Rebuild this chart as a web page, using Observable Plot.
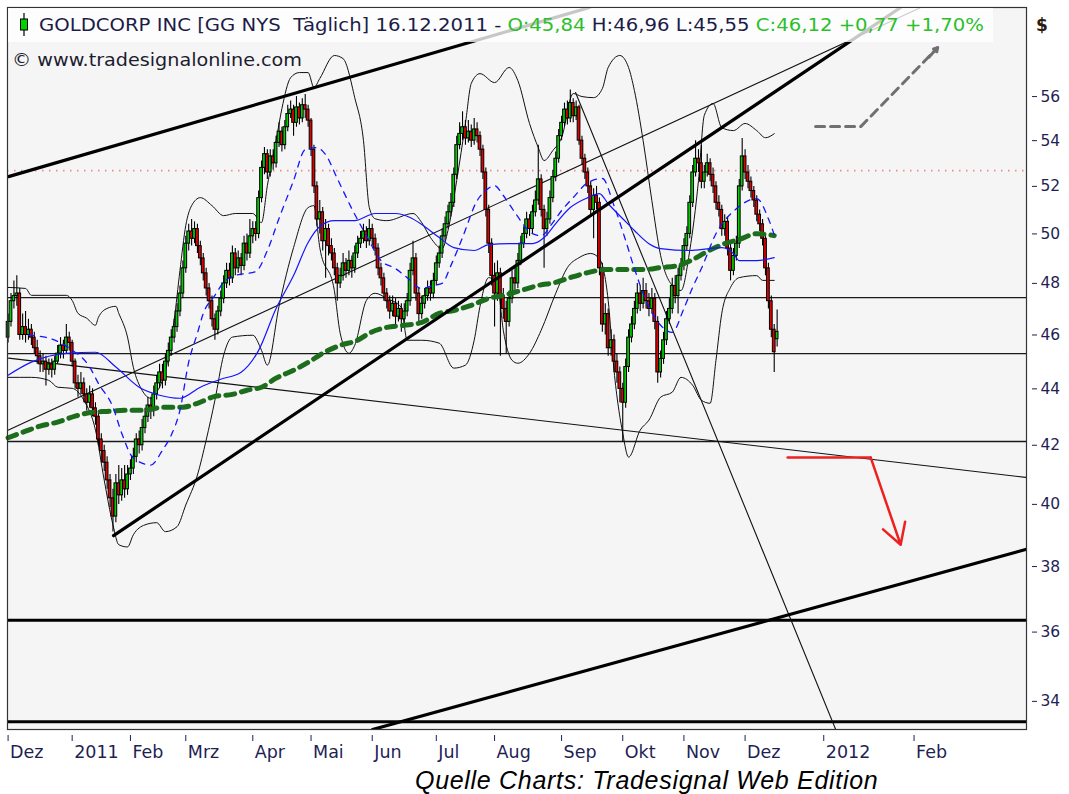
<!DOCTYPE html>
<html><head><meta charset="utf-8">
<script src="https://cdn.jsdelivr.net/npm/d3@7"></script>
<script src="https://cdn.jsdelivr.net/npm/@observablehq/plot@0.6"></script>
<style>
body{margin:0;background:#fff;width:1069px;height:794px;position:relative;overflow:hidden}
#chart{position:absolute;left:0;top:0}
#caption{position:absolute;left:415px;top:766px;font:italic 25px "Liberation Sans",Arial,sans-serif;letter-spacing:0.7px;line-height:28px;color:#000;white-space:nowrap}
</style></head><body>
<div id="chart"></div>
<div id="caption">Quelle Charts: Tradesignal Web Edition</div>
<script>
// ---- daily candles, 01.12.2010 .. 16.12.2011 (bar index = trading day) ----
const opens = [
45.9,46.5,47.3,47.5,47.6,46.0,46.3,46.0,46.2,45.9,45.5,45.2,44.9,45.0,44.7,44.9,44.7,45.0,45.3,45.6,45.4,45.9,
45.7,45.0,44.2,44.0,44.2,43.8,43.5,43.8,43.3,43.0,42.2,41.8,41.4,40.8,40.2,39.6,40.7,40.3,40.8,40.5,
41.0,41.2,41.6,42.2,42.0,42.6,43.0,43.4,43.2,43.8,44.2,44.6,44.3,45.0,45.4,45.9,46.3,46.9,47.6,
48.6,49.6,50.1,49.8,50.2,49.5,49.0,48.4,47.8,47.3,46.6,46.2,46.9,47.4,48.0,48.5,48.2,49.2,48.6,49.0,48.7,49.6,49.2,
49.9,50.2,50.0,51.5,52.8,53.4,52.6,53.3,53.0,53.9,54.4,53.8,54.6,55.2,55.4,54.8,55.5,55.0,55.6,55.4,
54.9,53.6,52.0,50.6,50.9,49.7,50.2,49.5,49.2,48.6,48.0,48.3,48.8,48.5,48.9,48.6,49.2,49.6,49.8,50.1,49.7,
50.2,49.8,49.4,48.6,48.2,47.6,47.3,46.9,47.2,46.7,47.0,46.6,46.9,47.3,48.5,49.0,47.6,46.8,47.2,47.5,47.8,47.6,
48.1,48.8,49.2,49.9,50.4,50.9,51.3,52.5,53.8,54.3,54.6,54.1,54.4,54.0,54.5,54.2,53.6,52.6,51.0,49.6,
48.3,47.6,48.4,47.5,47.0,46.5,47.4,48.2,48.0,48.9,49.6,50.0,50.6,50.2,50.9,51.4,52.3,51.0,50.2,50.6,51.5,52.4,53.2,
54.2,54.8,55.4,55.0,55.7,55.1,55.5,54.0,53.2,52.6,52.0,51.0,51.6,51.3,48.6,46.4,46.8,45.5,45.8,45.0,44.6,
44.0,43.5,44.8,45.9,46.4,47.0,47.6,47.2,47.7,47.3,47.0,47.4,46.5,44.6,45.1,45.8,46.6,47.0,47.9,47.5,48.3,
48.7,49.5,50.0,51.3,52.6,53.2,53.0,52.2,52.6,53.0,52.5,52.0,51.3,51.0,50.2,50.5,49.4,48.5,49.1,49.6,52.0,
53.3,52.6,52.2,51.8,51.4,50.8,50.4,49.8,48.6,47.3,46.2,45.84];
const highs = [
46.8,47.6,48.1,48.3,47.8,46.8,46.9,46.6,46.4,46.1,45.8,45.4,45.3,45.2,45.1,45.1,45.2,45.6,45.9,45.8,46.4,46.1,
45.8,45.1,44.5,44.6,44.4,44.0,44.1,44.0,43.5,43.2,42.4,42.0,41.6,41.0,40.5,41.0,41.3,41.2,41.3,41.3,
41.5,41.9,42.4,42.5,42.9,43.3,43.7,43.7,44.1,44.5,44.9,44.9,45.3,45.7,46.2,46.6,47.2,47.9,48.9,
49.9,50.4,50.6,50.5,50.4,49.7,49.2,48.6,48.0,47.5,46.8,47.1,47.7,48.3,48.8,48.8,49.5,49.4,49.3,49.2,49.9,50.0,50.6,
50.5,50.5,51.8,53.1,53.7,53.6,53.6,53.6,54.2,54.8,54.6,54.9,55.6,55.8,55.6,56.0,55.7,55.9,56.1,55.6,
55.0,53.8,52.2,51.4,51.1,50.6,50.4,49.8,49.4,48.8,48.6,49.2,49.0,49.3,49.1,49.5,49.9,50.1,50.4,50.3,50.6,
50.4,50.0,49.6,48.8,48.4,47.8,47.5,47.5,47.4,47.3,47.2,47.2,47.6,48.8,49.7,49.2,47.8,47.5,47.8,48.1,48.1,48.4,
49.1,49.5,50.2,50.7,51.2,51.7,52.8,54.2,54.8,55.3,54.9,54.9,54.7,55.0,54.8,54.4,53.8,52.8,51.2,49.8,
48.8,48.9,48.6,47.8,47.3,47.7,48.5,48.6,49.2,49.9,50.3,50.9,50.8,51.2,51.8,53.8,52.5,51.2,50.9,51.8,52.7,53.5,54.5,
55.1,55.7,55.8,56.3,55.9,55.8,55.6,54.2,53.4,52.8,52.2,51.9,52.0,51.5,48.8,47.2,47.0,46.2,46.0,45.3,44.8,
44.2,45.1,46.2,46.7,47.3,48.0,47.9,48.2,48.0,47.6,47.8,47.6,46.7,45.4,46.1,46.9,47.4,48.2,48.3,48.6,49.0,
49.8,50.3,51.6,52.9,54.0,53.6,53.8,52.9,53.4,53.2,52.8,52.2,51.6,51.2,50.8,50.7,49.6,49.4,49.9,52.3,54.1,
53.6,52.9,52.4,52.0,51.6,51.0,50.6,50.0,48.8,47.5,46.4,46.96];
const lows = [
45.7,46.3,47.0,47.1,45.8,45.8,45.7,45.8,45.6,45.3,44.9,44.6,44.6,44.1,44.5,44.4,44.5,44.9,45.1,45.1,45.3,45.4,
44.8,44.0,43.7,43.8,43.5,43.2,43.3,43.0,42.7,42.0,41.4,41.1,40.5,39.9,39.1,39.4,40.0,40.1,40.2,40.3,
40.8,41.0,41.4,41.7,41.8,42.4,42.8,42.9,43.0,43.6,44.0,44.0,44.1,44.8,45.2,45.7,46.1,46.7,47.4,
48.4,49.3,49.5,49.6,49.2,48.7,48.1,47.5,47.0,46.3,45.8,46.0,46.7,47.2,47.8,47.9,48.0,48.3,48.4,48.3,48.5,48.9,49.0,
49.6,49.7,49.8,51.3,52.5,52.3,52.4,52.7,52.8,53.7,53.5,53.6,54.4,55.0,54.2,54.6,54.7,54.8,55.0,54.6,
53.3,51.7,50.3,50.0,49.3,48.2,49.1,48.9,48.3,47.3,47.8,48.1,48.2,48.3,48.2,48.4,49.0,49.4,49.6,49.4,49.5,
49.5,49.1,48.3,47.9,47.3,47.0,46.6,46.7,46.4,46.5,46.1,46.4,46.7,47.1,48.3,47.3,46.4,46.6,47.0,47.3,47.3,47.4,
47.9,48.6,49.0,49.7,50.2,50.7,51.1,52.3,53.6,54.0,53.8,53.9,53.7,53.8,53.9,53.3,52.3,50.7,49.2,47.9,
46.3,47.3,45.2,46.6,45.3,46.3,47.2,47.7,47.8,48.7,49.4,49.8,49.9,50.0,50.7,51.2,50.7,48.6,49.9,50.4,51.3,52.2,53.0,
54.0,54.6,54.7,54.8,54.8,54.9,53.8,52.9,52.3,51.7,50.7,49.8,51.0,48.3,46.1,46.0,45.2,45.2,44.6,44.2,43.5,
42.1,43.3,44.6,45.7,46.2,46.8,46.9,47.0,47.0,46.7,46.8,46.2,44.2,44.4,44.9,45.6,46.4,46.8,47.2,46.8,48.1,
48.5,49.3,49.8,51.1,52.4,52.6,51.9,51.9,52.4,52.2,51.7,51.0,50.7,49.9,49.9,49.1,48.1,48.3,48.9,49.4,51.8,
52.3,51.9,51.5,51.1,50.5,50.1,49.5,48.3,47.0,45.9,44.6,45.55];
const closes = [
46.5,47.3,47.5,47.6,46.0,46.3,46.0,46.2,45.9,45.5,45.2,44.9,45.0,44.7,44.9,44.7,45.0,45.3,45.6,45.4,45.9,45.7,
45.0,44.2,44.0,44.2,43.8,43.5,43.8,43.3,43.0,42.2,41.8,41.4,40.8,40.2,39.6,40.7,40.3,40.8,40.5,41.0,
41.2,41.6,42.2,42.0,42.6,43.0,43.4,43.2,43.8,44.2,44.6,44.3,45.0,45.4,45.9,46.3,46.9,47.6,48.6,
49.6,50.1,49.8,50.2,49.5,49.0,48.4,47.8,47.3,46.6,46.2,46.9,47.4,48.0,48.5,48.2,49.2,48.6,49.0,48.7,49.6,49.2,49.9,
50.2,50.0,51.5,52.8,53.4,52.6,53.3,53.0,53.9,54.4,53.8,54.6,55.2,55.4,54.8,55.5,55.0,55.6,55.4,54.9,
53.6,52.0,50.6,50.9,49.7,50.2,49.5,49.2,48.6,48.0,48.3,48.8,48.5,48.9,48.6,49.2,49.6,49.8,50.1,49.7,50.2,
49.8,49.4,48.6,48.2,47.6,47.3,46.9,47.2,46.7,47.0,46.6,46.9,47.3,48.5,49.0,47.6,46.8,47.2,47.5,47.8,47.6,48.1,
48.8,49.2,49.9,50.4,50.9,51.3,52.5,53.8,54.3,54.6,54.1,54.4,54.0,54.5,54.2,53.6,52.6,51.0,49.6,48.3,
47.6,48.4,47.5,47.0,46.5,47.4,48.2,48.0,48.9,49.6,50.0,50.6,50.2,50.9,51.4,52.3,51.0,50.2,50.6,51.5,52.4,53.2,54.2,
54.8,55.4,55.0,55.7,55.1,55.5,54.0,53.2,52.6,52.0,51.0,51.6,51.3,48.6,46.4,46.8,45.5,45.8,45.0,44.6,44.0,
43.5,44.8,45.9,46.4,47.0,47.6,47.2,47.7,47.3,47.0,47.4,46.5,44.6,45.1,45.8,46.6,47.0,47.9,47.5,48.3,48.7,
49.5,50.0,51.3,52.6,53.2,53.0,52.2,52.6,53.0,52.5,52.0,51.3,51.0,50.2,50.5,49.4,48.5,49.1,49.6,52.0,53.3,
52.6,52.2,51.8,51.4,50.8,50.4,49.8,48.6,47.3,46.2,45.35,46.12];

// ---- axes ----
const monthTickIdx = [0,22,42,61,84,104,125,147,167,190,211,232,253,280,311];
const monthLabels = ["Dez","2011","Feb","Mrz","Apr","Mai","Jun","Jul","Aug","Sep","Okt","Nov","Dez","2012","Feb"];
const priceTicks = [34,36,38,40,42,44,46,48,50,52,54,56];

// ---- indicators [bar index, price] ----
const bbUpper = [[0,47.84],[6,47.80],[8,47.53],[20,47.53],[22,47.33],[24,46.83],[27,46.64],[30,46.37],[31,46.67],[34,47.02],[37,47.10],[38,46.83],[41,45.92],[43,44.79],[46,43.95],[49,43.66],[51,43.88],[54,44.68],[57,46.56],[59,48.51],[61,50.35],[63,51.18],[66,51.52],[70,51.18],[74,50.76],[78,50.85],[84,50.85],[87,50.47],[89,52.03],[92,54.00],[94,55.45],[97,56.88],[100,57.12],[103,57.12],[105,56.42],[107,56.84],[112,57.93],[115,57.78],[119,55.95],[122,54.00],[124,51.10],[126,50.63],[130,50.55],[139,50.85],[142,50.47],[145,49.85],[149,49.40],[151,50.14],[154,52.25],[157,54.77],[159,56.61],[162,57.07],[167,56.65],[172,57.36],[175,56.74],[179,54.77],[182,53.69],[184,53.12],[187,53.56],[190,54.13],[194,56.14],[197,56.00],[201,55.95],[204,56.37],[206,57.36],[210,57.93],[213,57.36],[215,56.28],[218,54.00],[221,51.39],[224,49.12],[228,47.92],[231,47.72],[234,49.32],[237,52.25],[239,55.14],[242,55.68],[245,54.58],[249,54.45],[253,54.77],[257,54.45],[260,54.13],[263,54.31]];
const bbLower = [[0,44.42],[8,44.42],[14,44.31],[17,44.06],[22,44.02],[26,43.59],[30,42.53],[33,40.81],[36,39.33],[38,38.69],[41,38.62],[43,39.01],[47,39.33],[51,39.40],[54,39.11],[58,39.27],[61,39.98],[65,40.98],[68,42.18],[71,43.59],[74,45.24],[77,45.92],[84,45.99],[87,45.42],[89,44.87],[93,47.10],[98,49.44],[103,51.10],[105,51.18],[107,49.44],[112,47.72],[114,46.07],[117,45.31],[119,45.61],[123,47.33],[126,47.61],[130,47.41],[135,47.06],[137,45.80],[142,45.80],[148,45.69],[153,44.76],[157,44.87],[160,45.80],[162,47.10],[165,48.23],[168,47.92],[170,46.18],[173,45.05],[175,44.94],[179,45.31],[183,46.18],[188,47.61],[192,48.63],[196,49.03],[200,49.20],[203,48.99],[206,47.33],[208,44.68],[211,42.42],[213,41.59],[217,42.53],[220,42.88],[224,43.70],[228,43.88],[231,44.42],[235,44.13],[238,43.59],[241,43.48],[243,45.05],[245,46.83],[248,47.84],[251,48.23],[257,48.31],[259,48.12],[263,48.12]];
const maSlow = [[0,44.50],[8,44.98],[20,45.31],[30,45.35],[37,44.80],[45,44.06],[52,43.77],[59,43.66],[66,44.06],[73,44.35],[80,44.61],[86,45.42],[92,47.02],[98,48.31],[103,49.65],[107,50.31],[112,50.55],[119,50.55],[126,50.85],[133,50.85],[138,50.68],[142,50.39],[148,49.85],[153,49.44],[160,49.32],[165,49.56],[172,49.60],[180,49.60],[184,49.85],[188,50.43],[193,51.10],[199,51.52],[203,51.69],[206,51.26],[211,50.63],[215,50.14],[220,49.60],[224,49.40],[234,49.32],[241,49.40],[245,49.44],[249,49.20],[251,48.91],[257,48.91],[263,49.03]];
const maFast = [[7,45.99],[14,45.88],[21,45.50],[28,44.80],[31,44.20],[36,43.34],[39,42.42],[43,41.56],[49,41.32],[53,41.83],[56,42.35],[59,43.23],[62,44.98],[65,46.07],[67,46.82],[71,47.53],[74,48.04],[78,48.31],[85,48.47],[89,49.32],[93,50.64],[98,52.25],[102,53.60],[106,53.69],[109,53.38],[113,52.34],[118,51.05],[123,49.93],[128,48.91],[133,48.59],[137,48.23],[142,47.80],[146,47.92],[149,48.00],[152,48.71],[156,49.85],[161,51.39],[164,51.82],[167,52.03],[170,51.61],[174,50.89],[180,50.01],[183,49.93],[187,50.47],[190,50.97],[194,51.52],[199,52.16],[204,52.34],[208,51.18],[212,49.73],[215,48.59],[219,47.33],[224,46.37],[228,46.10],[232,47.02],[235,47.84],[238,48.59],[243,50.01],[250,51.05],[257,51.48],[261,50.63],[263,49.97]];
const ma200 = [[0,42.26],[6,42.49],[11,42.67],[17,42.81],[23,43.02],[29,43.16],[34,43.19],[40,43.23],[47,43.23],[53,43.34],[60,43.34],[65,43.48],[71,43.73],[77,43.80],[82,43.95],[87,44.06],[92,44.39],[98,44.68],[103,44.97],[108,45.31],[114,45.61],[120,45.80],[124,46.07],[130,46.29],[136,46.37],[142,46.48],[148,46.83],[153,46.94],[159,47.14],[165,47.41],[170,47.53],[176,47.72],[182,47.92],[188,48.04],[193,48.23],[199,48.43],[205,48.55],[211,48.55],[218,48.55],[224,48.63],[230,48.71],[235,48.95],[240,49.28],[246,49.60],[251,49.77],[257,50.01],[263,49.93]];

// ---- drawing tools [bar index, price] ----
const trendThick = [[[0.14,52.42],[199.6,60.27]], [[36.2,38.98],[306.4,60.27]], [[125.1,33.22],[349.3,38.54]]];
const trendThin  = [[[0.14,42.53],[313.3,60.27]], [[0.14,45.13],[349.3,40.90]], [[194.8,56.19],[284.1,33.22]]];
const levelsThin = [47.44, 45.30, 42.13];
const levelsThick = [36.35, 33.43];
const levelDotted = [52.68];
const redArrow = [[267.6,41.58],[296.1,41.58],[306.4,38.69]];
const greyArrow = [[277.2,54.63],[292.7,54.63],[319.1,58.31]];

// ---- header ----
const headerParts = [["GOLDCORP INC [GG NYS  T\u00e4glich] 16.12.2011 - ","#1c1c48"],["O:45,84","#2cbf2c"],[" H:46,96 L:45,55 ","#1c1c48"],["C:46,12 +0,77 +1,70%","#2cbf2c"]];
const copyright = "\u00a9 www.tradesignalonline.com";

const candles = closes.map((c, i) => ({i, o: opens[i], h: highs[i], l: lows[i], c}));
const toRows = (arr) => arr.map(([i, p]) => ({i, p}));
const segRows = (segs) => segs.flatMap((s, k) => s.map(([i, p]) => ({i, p, k})));
const labelOf = new Map(monthTickIdx.map((d, k) => [d, monthLabels[k]]));

const chart = Plot.plot({
  width: 1069, height: 768,
  marginLeft: 7, marginRight: 43, marginTop: 7, marginBottom: 39,
  style: {fontFamily: "DejaVu Sans, sans-serif", color: "#1f1f55", background: "transparent"},
  x: {type: "linear", domain: [-0.2, 349.6]},
  y: {type: "log", domain: [33.22, 60.27]},
  marks: [
    Plot.frame({fill: "#f5f5f5"}),
    Plot.ruleY(levelDotted, {stroke: "#f08a8a", strokeWidth: 1.6, strokeDasharray: "1.5,5.5"}),
    Plot.ruleY(levelsThin, {stroke: "#1a1a1a", strokeWidth: 1.3}),
    Plot.ruleY(levelsThick, {stroke: "#000", strokeWidth: 3}),
    Plot.line(toRows(bbUpper), {x: "i", y: "p", stroke: "#111", strokeWidth: 1, curve: "monotone-x"}),
    Plot.line(toRows(bbLower), {x: "i", y: "p", stroke: "#111", strokeWidth: 1, curve: "monotone-x"}),
    Plot.line(segRows(trendThin), {x: "i", y: "p", z: "k", stroke: "#111", strokeWidth: 1.1, clip: true}),
    Plot.ruleX(candles, {x: "i", y1: d => Math.min(d.l, d.o, d.c), y2: d => Math.max(d.h, d.o, d.c), stroke: "#000", strokeWidth: 1.1}),
    Plot.rect(candles, {x1: d => d.i - 0.47, x2: d => d.i + 0.47, y1: "o", y2: "c",
      fill: d => d.c >= d.o ? "#00cc00" : "#e00000", stroke: "#000", strokeWidth: 1}),
    Plot.line(toRows(ma200), {x: "i", y: "p", stroke: "#1c6e1c", strokeWidth: 5, strokeDasharray: "9,7", curve: "monotone-x"}),
    Plot.line(toRows(maSlow), {x: "i", y: "p", stroke: "#1515ff", strokeWidth: 1.2, curve: "monotone-x"}),
    Plot.line(toRows(maFast), {x: "i", y: "p", stroke: "#1515ff", strokeWidth: 1.3, strokeDasharray: "6,6", curve: "monotone-x"}),
    Plot.line(segRows(trendThick), {x: "i", y: "p", z: "k", stroke: "#000", strokeWidth: 3.2, clip: true}),
    Plot.line(toRows(redArrow.slice(0, 2)), {x: "i", y: "p", stroke: "#ee2020", strokeWidth: 2.5}),
    Plot.arrow([redArrow], {x1: d => d[1][0], y1: d => d[1][1], x2: d => d[2][0], y2: d => d[2][1], stroke: "#ee2020", strokeWidth: 2.5, headLength: 14}),
    Plot.line(toRows(greyArrow), {x: "i", y: "p", stroke: "#707070", strokeWidth: 3, strokeDasharray: "9,6"}),
    Plot.arrow([greyArrow], {x1: d => d[2][0] - 3, y1: d => d[2][1] * 0.992, x2: d => d[2][0], y2: d => d[2][1], stroke: "#707070", strokeWidth: 3, headLength: 14}),
    Plot.frame({stroke: "#333", strokeWidth: 1.2}),
    Plot.axisY(priceTicks, {anchor: "right", label: null, tickSize: 5, tickPadding: 4, dx: 5, fontSize: 15.5, tickFormat: d => String(d)}),
    Plot.axisX(monthTickIdx, {anchor: "bottom", label: null, tickSize: 6, dy: 6, tickFormat: () => ""}),
    Plot.axisX(monthTickIdx, {anchor: "bottom", label: null, tickSize: 0, tickPadding: 16, dx: 2, textAnchor: "start", fontSize: 17.5, tickFormat: d => labelOf.get(d)})
  ]
});
document.getElementById("chart").append(chart);

// header overlay
const svg = d3.select(chart);
const g = svg.append("g").attr("text-anchor", "start");
g.append("rect").attr("x", 8).attr("y", 8).attr("width", 985).attr("height", 34).attr("fill", "#fff").attr("fill-opacity", 0.78);
g.append("line").attr("x1", 24).attr("x2", 24).attr("y1", 13).attr("y2", 36).attr("stroke", "#000").attr("stroke-width", 1.2);
g.append("rect").attr("x", 20.5).attr("y", 19).attr("width", 7).attr("height", 11).attr("fill", "#00d000").attr("stroke", "#000").attr("stroke-width", 1);
const t = g.append("text").attr("x", 39).attr("y", 31).attr("text-anchor", "start").attr("font-family", "DejaVu Sans, sans-serif").attr("font-size", 17)
  .attr("textLength", 945).attr("lengthAdjust", "spacingAndGlyphs").attr("xml:space", "preserve").style("white-space", "pre");
headerParts.forEach(([s, col]) => t.append("tspan").attr("fill", col).text(s));
g.append("text").attr("x", 12).attr("y", 66).attr("text-anchor", "start").attr("font-family", "DejaVu Sans, sans-serif").attr("font-size", 17)
  .attr("fill", "#1c1c30").attr("textLength", 290).attr("lengthAdjust", "spacingAndGlyphs").text(copyright);
g.append("text").attr("x", 1036).attr("y", 31).attr("text-anchor", "start").attr("font-family", "DejaVu Sans, sans-serif").attr("font-size", 17)
  .attr("font-weight", "bold").attr("fill", "#2a1a10").text("$");
</script></body></html>
